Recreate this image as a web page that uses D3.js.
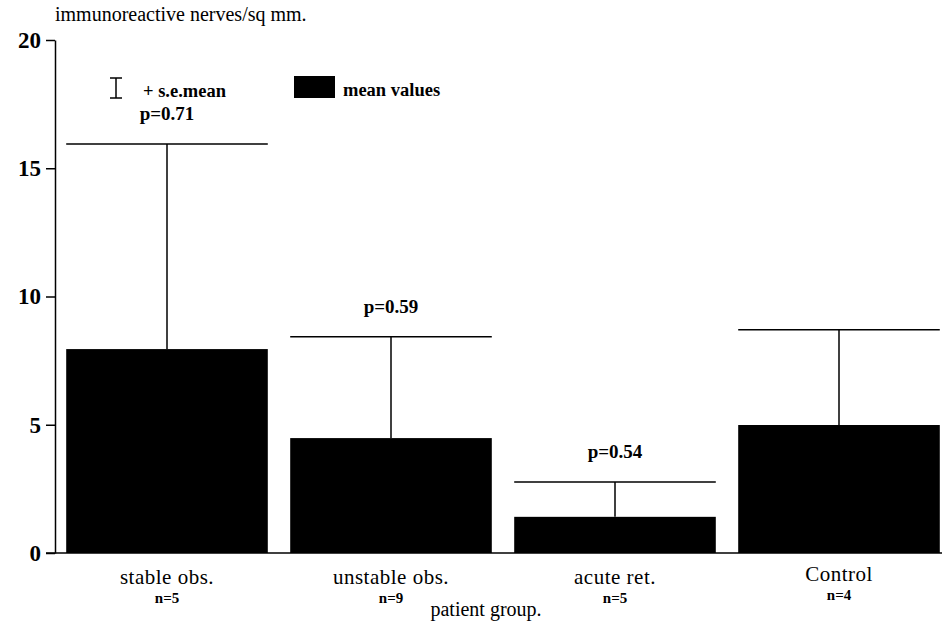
<!DOCTYPE html>
<html><head><meta charset="utf-8">
<script src="https://cdn.jsdelivr.net/npm/d3@7"></script>
<style>body{margin:0;background:#fff}svg{display:block}</style>
</head><body><svg id="c" width="942" height="627"></svg>
<script>
const categories = ["stable obs.", "unstable obs.", "acute ret.", "Control"];
const nLabels = ["n=5", "n=9", "n=5", "n=4"];
const meanValues = [7.95, 4.48, 1.41, 4.99];
const semTops = [15.95, 8.43, 2.77, 8.7];
const pLabels = ["p=0.71", "p=0.59", "p=0.54", null];
const yTicks = [0, 5, 10, 15, 20];

const FONT = '"Liberation Serif", "Times New Roman", Times, serif';
const svg = d3.select("#c");
const x = d3.scaleBand().domain(categories).range([55, 951]).paddingInner(0.1).paddingOuter(0.05);
const y = d3.scaleLinear().domain([0, 20]).range([553, 40]);

// baseline
svg.append("line").attr("x1", 46).attr("x2", 942).attr("y1", y(0)).attr("y2", y(0)).attr("stroke", "#000").attr("stroke-width", 1.5);

// y axis
const ax = svg.append("g").attr("transform", "translate(55,0)")
  .call(d3.axisLeft(y).tickValues(yTicks).tickSize(9).tickPadding(5).tickSizeOuter(0));
ax.attr("font-family", null).attr("font-size", null);
ax.select(".domain").attr("stroke-width", 1.5);
ax.selectAll(".tick line").attr("stroke-width", 1.5);
ax.selectAll(".tick text").style("font-size", "23px").style("font-weight", "bold").attr("fill", "#000");

// error bars
const idx = d3.range(categories.length);
svg.selectAll(".err").data(idx).join("line")
  .attr("x1", i => x(categories[i]) + x.bandwidth() / 2).attr("x2", i => x(categories[i]) + x.bandwidth() / 2)
  .attr("y1", i => y(meanValues[i])).attr("y2", i => y(semTops[i]))
  .attr("stroke", "#000").attr("stroke-width", 1.5);
svg.selectAll(".cap").data(idx).join("line")
  .attr("x1", i => x(categories[i])).attr("x2", i => x(categories[i]) + x.bandwidth())
  .attr("y1", i => y(semTops[i])).attr("y2", i => y(semTops[i]))
  .attr("stroke", "#000").attr("stroke-width", 1.5);

// bars
svg.selectAll(".bar").data(idx).join("rect")
  .attr("x", i => x(categories[i])).attr("width", x.bandwidth())
  .attr("y", i => y(meanValues[i])).attr("height", i => y(0) - y(meanValues[i]))
  .attr("fill", "#000");

// p labels
svg.selectAll(".p").data(idx.filter(i => pLabels[i])).join("text")
  .attr("x", i => x(categories[i]) + x.bandwidth() / 2).attr("y", i => y(semTops[i]) - 24)
  .attr("text-anchor", "middle").style("font-size", "19px").style("font-weight", "bold")
  .text(i => pLabels[i]);

// category labels
svg.selectAll(".cat").data(idx).join("text")
  .attr("x", i => x(categories[i]) + x.bandwidth() / 2).attr("y", i => i === 3 ? 581 : 584)
  .attr("text-anchor", "middle").style("font-size", "21px").style("letter-spacing", "0.5px")
  .text(i => categories[i]);
svg.selectAll(".n").data(idx).join("text")
  .attr("x", i => x(categories[i]) + x.bandwidth() / 2).attr("y", i => i === 3 ? 600 : 603)
  .attr("text-anchor", "middle").style("font-size", "15px").style("font-weight", "bold")
  .text(i => nLabels[i]);

// axis titles
svg.append("text").attr("x", 55).attr("y", 21).style("font-size", "20px").text("immunoreactive nerves/sq mm.");
svg.append("text").attr("x", 486).attr("y", 616).attr("text-anchor", "middle").style("font-size", "20px").text("patient group.");

// legend
const lg = svg.append("g");
lg.append("line").attr("x1", 116).attr("x2", 116).attr("y1", 78).attr("y2", 98).attr("stroke", "#000").attr("stroke-width", 1.5);
lg.append("line").attr("x1", 110).attr("x2", 122).attr("y1", 78).attr("y2", 78).attr("stroke", "#000").attr("stroke-width", 1.5);
lg.append("line").attr("x1", 110).attr("x2", 122).attr("y1", 98).attr("y2", 98).attr("stroke", "#000").attr("stroke-width", 1.5);
lg.append("text").attr("x", 143).attr("y", 97).style("font-size", "18.5px").style("font-weight", "bold").text("+ s.e.mean");
lg.append("rect").attr("x", 294).attr("y", 76).attr("width", 41).attr("height", 22).attr("fill", "#000");
lg.append("text").attr("x", 343).attr("y", 96).style("font-size", "18.5px").style("font-weight", "bold").text("mean values");

svg.selectAll("text").style("font-family", FONT).attr("fill", "#000");
</script></body></html>
